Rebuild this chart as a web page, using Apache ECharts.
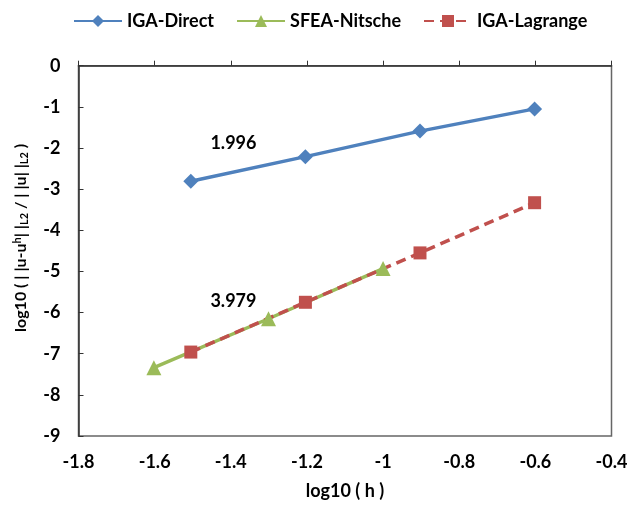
<!DOCTYPE html>
<html>
<head>
<meta charset="utf-8">
<script src="https://cdn.jsdelivr.net/npm/echarts@6/dist/echarts.min.js"></script>
<style>html,body{margin:0;padding:0;background:#fff}#c{width:632px;height:505px}</style>
</head>
<body>
<div id="c"></div>
<script>
var directX = [-1.505, -1.204, -0.903, -0.602];
var directY = [-2.81, -2.21, -1.59, -1.05];
var nitscheX = [-1.602, -1.301, -1.0];
var nitscheY = [-7.34, -6.15, -4.93];
var lagrangeX = [-1.505, -1.204, -0.903, -0.602];
var lagrangeY = [-6.96, -5.75, -4.55, -3.33];
var seriesNames = ['IGA-Direct', 'SFEA-Nitsche', 'IGA-Lagrange'];
var rateLabels = ['1.996', '3.979'];
var rateX = [-1.393, -1.393];
var rateY = [-1.88, -5.73];

function pairs(xs, ys) { return xs.map(function (x, i) { return [x, ys[i]]; }); }

var FONT = 'Lato';
var chart = echarts.init(document.getElementById('c'), null, { renderer: 'canvas' });
var rateMark = function (i) {
  return {
    symbol: 'circle', symbolSize: 0, silent: true,
    label: { show: true, position: 'inside', formatter: rateLabels[i], color: '#000', fontFamily: FONT, fontWeight: 'bold', fontSize: 18 },
    data: [{ coord: [rateX[i], rateY[i]] }]
  };
};
chart.setOption({
  animation: false,
  backgroundColor: '#fff',
  legend: {
    data: seriesNames,
    top: 7, left: 68,
    itemWidth: 48, itemHeight: 15, itemGap: 22,
    textStyle: { fontFamily: FONT, fontWeight: 'bold', fontSize: 18, color: '#000' }
  },
  grid: { left: 78.5, right: 20.5, top: 65.7, bottom: 67.5, show: true, borderColor: '#666', borderWidth: 1.5, backgroundColor: 'transparent' },
  xAxis: {
    type: 'value', min: -1.8, max: -0.4, interval: 0.2,
    name: 'log10 ( h )', nameLocation: 'middle', nameGap: 46,
    nameTextStyle: { fontFamily: FONT, fontWeight: 'bold', fontSize: 18, color: '#000' },
    axisLine: { show: true, lineStyle: { color: '#333', width: 1.5 } },
    axisTick: { show: true, inside: true, length: 5, lineStyle: { color: '#333' } },
    splitLine: { show: false },
    axisLabel: { margin: 17, fontFamily: FONT, fontWeight: 'bold', fontSize: 18, color: '#000',
      formatter: function (v) { return String(Math.round(v * 10) / 10); } }
  },
  yAxis: {
    type: 'value', min: -9, max: 0, interval: 1,
    name: 'log10 ( | |u-u{sup|h}| |{sub|L2} / | |u| |{sub|L2} )', nameLocation: 'middle', nameGap: 49,
    nameTextStyle: { fontFamily: FONT, fontWeight: 'bold', fontSize: 16, color: '#000', padding: [0, 0, 0, 26],
      rich: {
        sup: { fontFamily: FONT, fontWeight: 'bold', fontSize: 11, color: '#000', verticalAlign: 'top', padding: [0, 0, 7, 0] },
        sub: { fontFamily: FONT, fontWeight: 'bold', fontSize: 11, color: '#000', verticalAlign: 'bottom', padding: [6, 0, 0, 0] }
      } },
    axisLine: { show: true, lineStyle: { color: '#333', width: 1.5 } },
    axisTick: { show: true, inside: true, length: 5, lineStyle: { color: '#333' } },
    splitLine: { show: false },
    axisLabel: { margin: 18, fontFamily: FONT, fontWeight: 'bold', fontSize: 18, color: '#000' }
  },
  series: [
    { name: seriesNames[0], type: 'line', data: pairs(directX, directY), symbol: 'diamond', symbolSize: 15,
      color: '#4F81BD', lineStyle: { width: 3.5, color: '#4F81BD' }, itemStyle: { color: '#4F81BD' },
      markPoint: rateMark(0) },
    { name: seriesNames[1], type: 'line', data: pairs(nitscheX, nitscheY), symbol: 'triangle', symbolSize: 15,
      color: '#9BBB59', lineStyle: { width: 3.5, color: '#9BBB59' }, itemStyle: { color: '#9BBB59' } },
    { name: seriesNames[2], type: 'line', data: pairs(lagrangeX, lagrangeY), symbol: 'rect', symbolSize: 13,
      color: '#C0504D', lineStyle: { width: 3.5, color: '#C0504D', type: [10, 6] }, itemStyle: { color: '#C0504D' },
      markPoint: rateMark(1) }
  ]
});
</script>
</body>
</html>
